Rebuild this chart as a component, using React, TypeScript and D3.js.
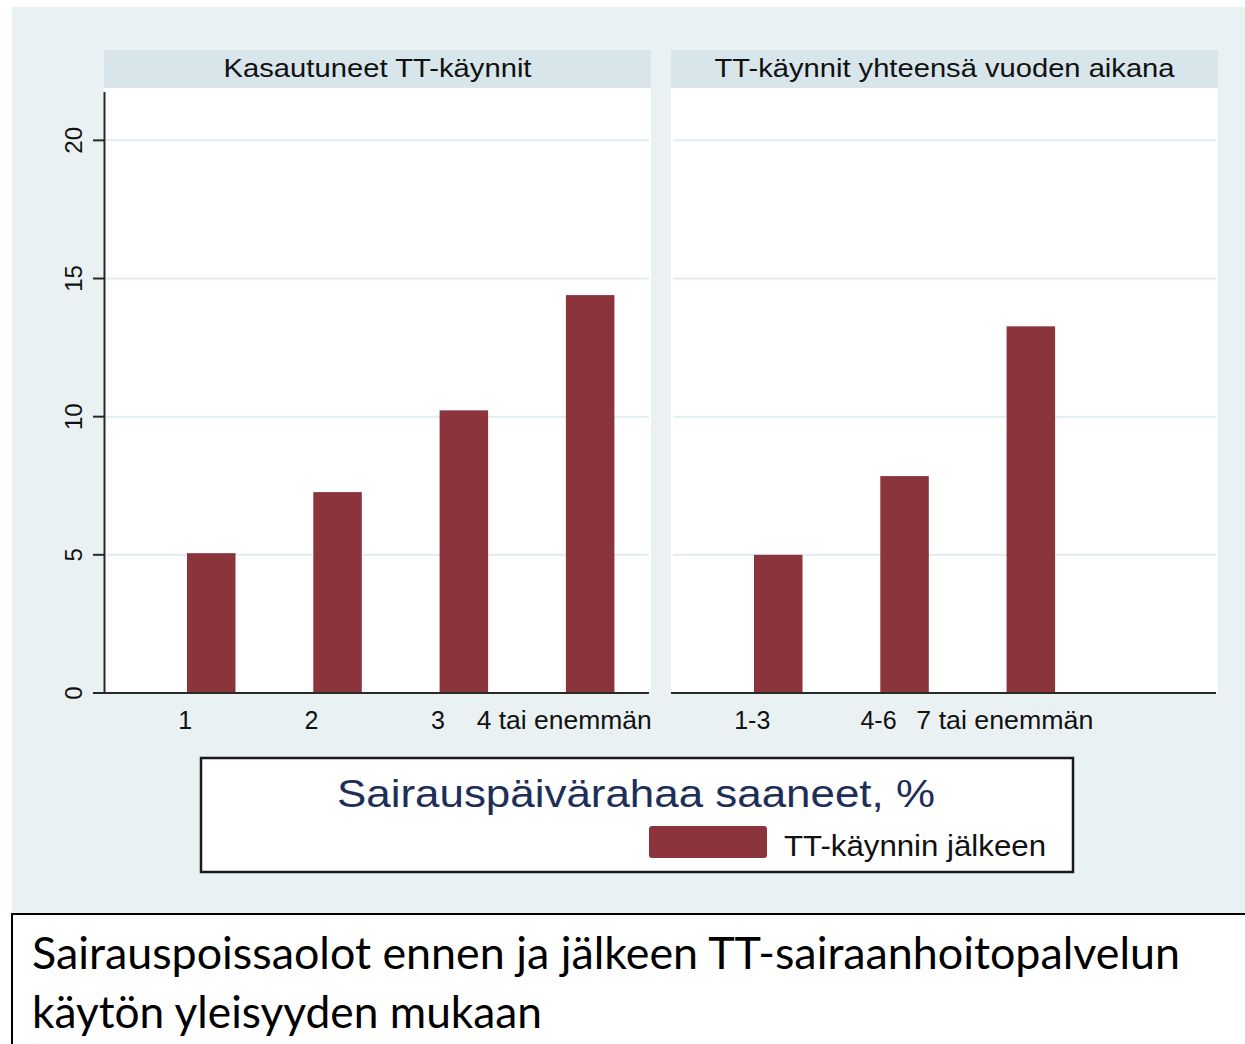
import React from "react";
import * as d3 from "d3";

const panelTitles = ["Kasautuneet TT-käynnit", "TT-käynnit yhteensä vuoden aikana"];
const categories1 = ["1", "2", "3", "4 tai enemmän"];
const values1 = [5.06, 7.27, 10.23, 14.4];
const categories2 = ["1-3", "4-6", "7 tai enemmän"];
const values2 = [5.0, 7.85, 13.27];
const yTicks = [0, 5, 10, 15, 20];
const legendTitle = "Sairauspäivärahaa saaneet, %";
const legendLabel = "TT-käynnin jälkeen";
const captionLines = [
  "Sairauspoissaolot ennen ja jälkeen TT-sairaanhoitopalvelun",
  "käytön yleisyyden mukaan",
];

const BAR = "#8b343b";
const BG = "#eaf1f3";
const HEADER = "#d8e5eb";
const GRID = "#e2ebef";
const AXIS = "#2a2a2a";
const STATA_FONT = "'Liberation Sans', Arial, sans-serif";

export default function App() {
  const W = 1245;
  const H = 1044;
  const plotTop = 92;
  const plotBottom = 693;
  const y = d3.scaleLinear().domain([0, 21.75]).range([plotBottom, plotTop]);

  const panels = [
    { x0: 104, x1: 651, cats: categories1, vals: values1, title: panelTitles[0], titleLen: 308 },
    { x0: 671, x1: 1218, cats: categories2, vals: values2, title: panelTitles[1], titleLen: 460 },
  ];

  const slot = d3
    .scaleBand<number>()
    .domain([0, 1, 2, 3])
    .range([83, 83 + 126.3 * (4 - 0.616)])
    .paddingInner(0.616)
    .paddingOuter(0);

  const tickLabelWidths: Record<string, number> = {
    "4 tai enemmän": 175,
    "7 tai enemmän": 177,
  };

  return (
    <svg
      width={W}
      height={H}
      viewBox={`0 0 ${W} ${H}`}
      style={{ position: "absolute", left: 0, top: 0, display: "block", background: "#fff" }}
    >
      <rect x={12} y={7} width={W - 12} height={907} fill={BG} />

      {panels.map((p, pi) => {
        const pw = p.x1 - p.x0;
        return (
          <g key={pi}>
            <rect x={p.x0} y={50} width={pw} height={38} fill={HEADER} />
            <text
              x={p.x0 + pw / 2}
              y={77}
              textAnchor="middle"
              fontFamily={STATA_FONT}
              fontSize={26}
              fill="#111"
              textLength={p.titleLen}
              lengthAdjust="spacingAndGlyphs"
            >
              {p.title}
            </text>
            <rect x={p.x0} y={88} width={pw} height={plotBottom - 88} fill="#fff" />
            {yTicks
              .filter((t) => t > 0)
              .map((t) => (
                <line
                  key={t}
                  x1={p.x0 + 2}
                  x2={p.x1 - 2}
                  y1={y(t)}
                  y2={y(t)}
                  stroke={GRID}
                  strokeWidth={2}
                />
              ))}
            {p.vals.map((v, i) => (
              <rect
                key={i}
                x={p.x0 + (slot(i) as number)}
                y={y(v)}
                width={slot.bandwidth()}
                height={y(0) - y(v)}
                fill={BAR}
              />
            ))}
            <line
              x1={pi === 0 ? 96 : p.x0}
              x2={p.x1 - 2}
              y1={plotBottom}
              y2={plotBottom}
              stroke={AXIS}
              strokeWidth={2}
            />
            {p.cats.map((c, i) => (
              <text
                key={c}
                x={p.x0 + (slot(i) as number) + slot.bandwidth() / 2 - 26}
                y={729}
                textAnchor="middle"
                fontFamily={STATA_FONT}
                fontSize={25}
                fill="#111"
                {...(tickLabelWidths[c]
                  ? { textLength: tickLabelWidths[c], lengthAdjust: "spacingAndGlyphs" }
                  : {})}
              >
                {c}
              </text>
            ))}
          </g>
        );
      })}

      {/* Y axis */}
      <line x1={104.5} x2={104.5} y1={plotTop} y2={plotBottom} stroke={AXIS} strokeWidth={2} />
      {yTicks.map((t) => (
        <g key={t}>
          <line x1={93} x2={104} y1={y(t)} y2={y(t)} stroke={AXIS} strokeWidth={2} />
          <text
            transform={`translate(82,${y(t)}) rotate(-90)`}
            textAnchor="middle"
            fontFamily={STATA_FONT}
            fontSize={24}
            fill="#111"
          >
            {t}
          </text>
        </g>
      ))}

      {/* Legend */}
      <rect x={201} y={758} width={872} height={114} fill="#fff" stroke="#1a1a1a" strokeWidth={2.5} />
      <text
        x={636}
        y={807}
        textAnchor="middle"
        fontFamily={STATA_FONT}
        fontSize={38}
        fill="#1d2e58"
        textLength={598}
        lengthAdjust="spacingAndGlyphs"
      >
        {legendTitle}
      </text>
      <rect x={649} y={826} width={118} height={32} rx={3} fill={BAR} />
      <text
        x={784}
        y={856}
        fontFamily={STATA_FONT}
        fontSize={30}
        fill="#111"
        textLength={262}
        lengthAdjust="spacingAndGlyphs"
      >
        {legendLabel}
      </text>

      {/* Caption */}
      <rect x={12} y={914} width={W - 12} height={H - 914} fill="#fff" />
      <line x1={12} x2={W} y1={914} y2={914} stroke="#000" strokeWidth={2} />
      <line x1={12} x2={12} y1={913} y2={H} stroke="#000" strokeWidth={2} />
      {captionLines.map((line, i) => (
        <text
          key={i}
          x={32}
          y={969 + i * 59}
          fontFamily="Lato, 'Open Sans', sans-serif"
          fontSize={44}
          fill="#000"
          textLength={i === 0 ? 1148 : 510}
          lengthAdjust="spacingAndGlyphs"
        >
          {line}
        </text>
      ))}
    </svg>
  );
}
